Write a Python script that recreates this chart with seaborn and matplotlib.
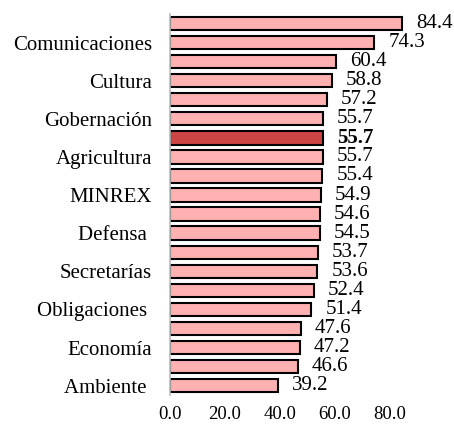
import pandas as pd
import matplotlib.pyplot as plt
import seaborn as sns

# Data (top to bottom)
categories = [
    "Org01", "Comunicaciones", "Org03", "Cultura", "Org05", "Gobernación",
    "Promedio", "Agricultura", "Org09", "MINREX", "Org11", "Defensa ",
    "Org13", "Secretarías", "Org15", "Obligaciones ", "Org17", "Economía",
    "Org19", "Ambiente ",
]
values = [84.4, 74.3, 60.4, 58.8, 57.2, 55.7, 55.7, 55.7, 55.4, 54.9,
          54.6, 54.5, 53.7, 53.6, 52.4, 51.4, 47.6, 47.2, 46.6, 39.2]
highlight = "Promedio"

df = pd.DataFrame({"cat": categories, "val": values})
df["grupo"] = ["hl" if c == highlight else "base" for c in df["cat"]]

sns.set_style("white")
plt.rcParams["font.family"] = ["Liberation Serif", "DejaVu Serif"]
plt.rcParams["text.color"] = "black"
plt.rcParams["xtick.color"] = "black"
plt.rcParams["ytick.color"] = "black"

fig = plt.figure(figsize=(4.54, 4.24), dpi=100)
ax = fig.add_axes([0.3745, 0.068, 0.606, 0.899])

sns.barplot(data=df, y="cat", x="val", hue="grupo",
            palette={"base": "#FFB0B0", "hl": "#CC4444"}, saturation=1,
            order=categories, width=0.7, edgecolor="black", linewidth=1.5,
            dodge=False, legend=False, ax=ax)

# value labels
for i, v in enumerate(values):
    bold = categories[i] == highlight
    ax.text(v + 5.0, i, f"{v:.1f}", va="center", ha="left", fontsize=15,
            color="black", fontweight="bold" if bold else "normal",
            clip_on=False)

ax.set_xlim(0, 100)
ax.set_ylim(len(categories) - 0.5, -0.5)
ax.set_xticks([0, 20, 40, 60, 80])
ax.set_xticklabels([f"{t:.1f}" for t in [0, 20, 40, 60, 80]], fontsize=13.5)
ax.set_yticks(range(1, len(categories), 2))
ax.set_yticklabels(categories[1::2], fontsize=15)
ax.tick_params(axis="both", length=0)
ax.tick_params(axis="x", pad=8)
ax.tick_params(axis="y", pad=13)
ax.set_xlabel("")
ax.set_ylabel("")

for s in ["top", "right", "bottom"]:
    ax.spines[s].set_visible(False)
ax.spines["left"].set_color("#bbbbbb")
ax.spines["left"].set_linewidth(1.2)

fig.savefig("out.png", dpi=100)
